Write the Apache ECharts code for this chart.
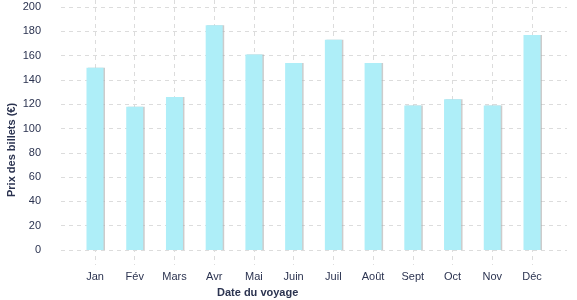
<!DOCTYPE html>
<html><head><meta charset="utf-8">
<script src="https://cdn.jsdelivr.net/npm/echarts@6/dist/echarts.min.js"></script>
<style>html,body{margin:0;padding:0;background:#fff}#c{width:577px;height:300px}</style>
</head><body><div id="c"></div>
<script>
const categories = ['Jan','Fév','Mars','Avr','Mai','Juin','Juil','Août','Sept','Oct','Nov','Déc'];
const prices = [150, 118, 126, 185, 161, 154, 173, 154, 119, 124, 119, 177];
const yTicks = [0, 20, 40, 60, 80, 100, 120, 140, 160, 180, 200];
const xTitle = 'Date du voyage';
const yTitle = 'Prix des billets (€)';

const txt = '#2b3350';
const font = 'Liberation Sans';
const chart = echarts.init(document.getElementById('c'), null, {renderer: 'canvas'});
chart.setOption({
  animation: false,
  textStyle: {fontFamily: font},
  grid: [
    {left: 61, right: 10, top: 7, bottom: 50},
    {left: 95, right: 45, top: 0, bottom: 35}
  ],
  xAxis: [
    {gridIndex: 0, type: 'value', show: false, min: 0, max: 1},
    {gridIndex: 1, type: 'category', data: categories, boundaryGap: false,
     axisLine: {show: false}, axisTick: {show: false},
     axisLabel: {color: txt, fontSize: 11, fontFamily: font, margin: 6},
     splitLine: {show: true, lineStyle: {color: '#dcdcdc', type: [4, 4], width: 1}}}
  ],
  yAxis: [
    {gridIndex: 0, type: 'value', min: yTicks[0], max: yTicks[yTicks.length - 1], interval: 20,
     axisLine: {show: false}, axisTick: {show: false},
     axisLabel: {color: txt, fontSize: 11, fontFamily: font, margin: 20},
     splitLine: {show: true, lineStyle: {color: '#dcdcdc', type: [4, 4], width: 1}}},
    {gridIndex: 1, type: 'value', min: -12.35, max: 205.76, show: false, splitLine: {show: false}}
  ],
  series: [{
    type: 'bar', xAxisIndex: 1, yAxisIndex: 1, data: prices, barWidth: 17, z: 10,
    itemStyle: {color: '#aeeef8', shadowColor: 'rgba(170,170,170,0.6)', shadowOffsetX: 1.5, shadowOffsetY: 0, shadowBlur: 0}
  }],
  graphic: [
    {type: 'text', left: 217, top: 287, style: {text: xTitle, fill: txt, font: 'bold 11px "Liberation Sans"'}},
    {type: 'text', x: 6, y: 197, rotation: Math.PI / 2, style: {text: yTitle, fill: txt, font: 'bold 11px "Liberation Sans"'}}
  ]
});
</script></body></html>
